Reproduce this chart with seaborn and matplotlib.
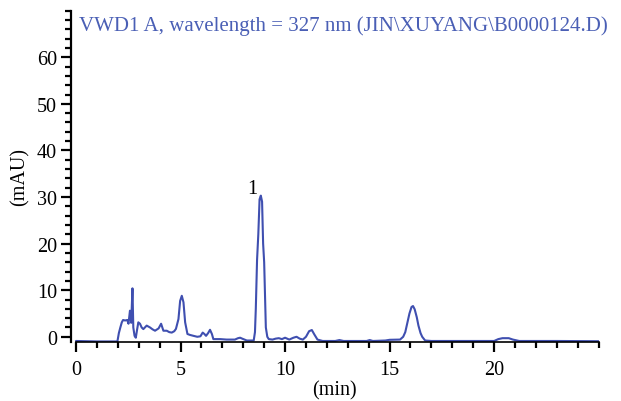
import numpy as np
import pandas as pd
import matplotlib
matplotlib.use("Agg")
import matplotlib.pyplot as plt
import seaborn as sns
from matplotlib.ticker import MultipleLocator

time_min = [0.0, 1.0, 1.98, 2.05, 2.12, 2.19, 2.25, 2.35, 2.45, 2.51, 2.58, 2.64, 2.70, 2.74, 2.80, 2.86,
            2.92, 2.98, 3.06, 3.14, 3.22, 3.38, 3.54, 3.66, 3.78, 3.95, 4.07, 4.18, 4.34, 4.46, 4.58,
            4.70, 4.78, 4.90, 4.98, 5.06, 5.14, 5.22, 5.33, 5.45, 5.62, 5.80, 5.95, 6.06, 6.14, 6.22,
            6.32, 6.41, 6.50, 6.57, 6.9, 7.2, 7.6, 7.75, 7.85, 7.95, 8.17, 8.5, 8.56, 8.60, 8.66,
            8.72, 8.78, 8.84, 8.90, 8.95, 9.00, 9.04, 9.08, 9.15, 9.22, 9.4, 9.55, 9.7, 9.85, 10.0,
            10.2, 10.4, 10.55, 10.7, 10.85, 11.0, 11.15, 11.28, 11.4, 11.55, 11.8, 12.4, 12.6, 12.8,
            13.9, 14.05, 14.2, 14.8, 15.0, 15.5, 15.65, 15.75, 15.85, 15.95, 16.05, 16.12, 16.2,
            16.3, 16.38, 16.48, 16.56, 16.7, 17.0, 20.0, 20.2, 20.4, 20.7, 20.9, 21.2, 23.0, 25.0]
absorbance = [-0.9, -1.0, -1.0, 0.8, 2.0, 3.1, 3.6, 3.5, 3.6, 2.8, 5.6, 3.0, 10.4, 2.0, 0.2, -0.2,
              1.5, 3.1, 2.8, 2.0, 1.65, 2.4, 2.0, 1.6, 1.3, 1.8, 2.8, 1.3, 1.3, 1.0, 0.9,
              1.2, 1.7, 3.8, 7.7, 8.8, 7.4, 3.1, 0.6, 0.4, 0.2, 0.0, 0.1, 0.9, 0.6, 0.2,
              0.8, 1.5, 0.6, -0.5, -0.5, -0.6, -0.6, -0.3, -0.2, -0.4, -0.8, -0.8, 1.0, 6.0, 16.5,
              22.0, 29.5, 30.3, 29.0, 20.0, 16.0, 9.0, 2.0, 0.0, -0.5, -0.6, -0.4, -0.3, -0.5, -0.2,
              -0.6, -0.2, 0.0, -0.4, -0.6, 0.0, 1.2, 1.45, 0.5, -0.6, -0.9, -0.9, -0.7, -0.9,
              -0.9, -0.7, -0.9, -0.8, -0.65, -0.6, 0.0, 1.0, 3.0, 5.0, 6.4, 6.6, 5.9,
              4.2, 2.4, 0.8, 0.0, -0.8, -0.9, -0.9, -0.5, -0.3, -0.3, -0.6, -0.9, -0.9, -0.95]

peak_labels = ["1"]
peak_times = [8.42]
peak_heights = [29.8]

title_text = "VWD1 A, wavelength = 327 nm (JIN\\XUYANG\\B0000124.D)"
x_ticks = [0, 5, 10, 15, 20]
y_ticks = [0, 10, 20, 30, 40, 50, 60]

df = pd.DataFrame({"time": time_min, "mAU": absorbance})

sns.set_theme(style="ticks")
plt.rcParams['font.family'] = ['Liberation Serif', 'DejaVu Serif']

fig = plt.figure(figsize=(6.21, 4.02), dpi=100)
ax = fig.add_axes([0.114, 0.147, 0.850, 0.824])

line_color = "#3f4fb0"
sns.lineplot(data=df, x="time", y="mAU", ax=ax, color=line_color, linewidth=1.5, estimator=None)

ax.set_xlim(-0.25, 25.0)
ax.set_ylim(-1.1, 70.0)

ax.spines['top'].set_visible(False)
ax.spines['right'].set_visible(False)
ax.spines['bottom'].set_bounds(0, 25.0)
ax.spines['left'].set_linewidth(1.6)
ax.spines['bottom'].set_linewidth(1.2)
ax.spines['left'].set_color('black')
ax.spines['bottom'].set_color('black')

ax.set_xticks(x_ticks)
ax.set_yticks(y_ticks)
ax.xaxis.set_minor_locator(MultipleLocator(1))
ax.yaxis.set_minor_locator(MultipleLocator(2))
ax.tick_params(axis='both', which='major', direction='out', length=7, width=1.6,
               labelsize=14.5, colors='black')
ax.tick_params(axis='x', which='major', pad=6)
ax.tick_params(axis='y', which='major', pad=3)
ax.tick_params(axis='both', which='minor', direction='out', length=4, width=1.6, colors='black')

ax.set_xlabel("(min)", fontsize=14.5, color='black', labelpad=1)
ax.set_ylabel("(mAU)", fontsize=14.5, color='black', labelpad=5)

ax.text(0.15, 65.8, title_text, fontsize=15, color="#4a5fb5", ha='left', va='baseline')

for lab, tx, hy in zip(peak_labels, peak_times, peak_heights):
    ax.text(tx, hy, lab, fontsize=14.5, color='black', ha='center', va='bottom')

fig.savefig("out.png", dpi=100)
